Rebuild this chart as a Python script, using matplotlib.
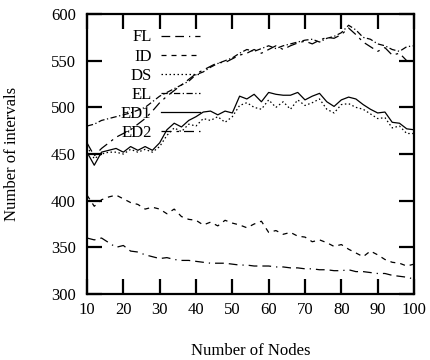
import numpy as np
import matplotlib
matplotlib.use('Agg')
from matplotlib import pyplot as plt

plt.rcParams['font.family'] = ['Liberation Serif', 'DejaVu Serif']

# Nombre de noeuds
nodes = np.arange(10, 101, 2)

FL = [360, 358, 360, 355, 350, 352, 346, 345, 342, 340, 338, 339, 337, 336, 336, 335,
      334, 333, 333, 333, 332, 331, 331, 330, 330, 330, 329, 329, 328, 328, 327, 327,
      326, 326, 325, 325, 326, 324, 324, 323, 322, 322, 320, 319, 318, 316]
ID = [406, 394, 401, 404, 406, 402, 398, 396, 391, 393, 391, 386, 391, 383, 380, 379,
      374, 377, 373, 379, 376, 374, 371, 375, 378, 366, 368, 364, 366, 362, 361, 356,
      358, 355, 351, 353, 348, 344, 340, 346, 342, 337, 334, 333, 330, 332]
DS = [458, 445, 450, 452, 452, 450, 455, 452, 455, 452, 458, 470, 478, 474, 482, 480,
      488, 486, 490, 484, 490, 502, 505, 500, 498, 508, 500, 506, 498, 508, 502, 505,
      509, 498, 494, 503, 504, 500, 498, 493, 488, 489, 478, 480, 472, 472]
EL = [480, 482, 486, 488, 490, 492, 494, 497, 500, 506, 512, 516, 520, 524, 528, 535,
      538, 543, 547, 550, 553, 558, 562, 560, 563, 566, 563, 566, 568, 570, 572, 573,
      570, 574, 576, 580, 588, 583, 575, 573, 568, 566, 562, 560, 565, 566]
ED1 = [452, 438, 452, 454, 456, 452, 458, 454, 458, 454, 462, 476, 483, 479, 486, 490,
       495, 496, 492, 496, 494, 512, 509, 514, 506, 516, 514, 513, 513, 516, 508, 512,
       515, 506, 501, 508, 511, 509, 503, 498, 494, 495, 484, 483, 477, 476]
ED2 = [462, 448, 456, 462, 468, 472, 476, 482, 488, 496, 505, 512, 518, 524, 530, 536,
       540, 544, 548, 548, 552, 556, 558, 562, 558, 562, 566, 562, 566, 569, 571, 568,
       572, 575, 574, 578, 585, 578, 570, 565, 560, 564, 556, 558, 550, 548]

fig = plt.figure(figsize=(4.3, 3.6), dpi=100)
ax = fig.add_axes([0.2023, 0.1833, 0.7605, 0.7777])

ax.plot(nodes, FL, 'k', lw=0.9, dashes=(7, 4, 7, 4, 1, 4), label='FL')
ax.plot(nodes, ID, 'k', lw=0.9, dashes=(4, 4), label='ID')
ax.plot(nodes, DS, 'k', lw=0.9, dashes=(1.2, 2), label='DS')
ax.plot(nodes, EL, 'k', lw=0.9, dashes=(5, 2, 1, 2), label='EL')
ax.plot(nodes, ED1, 'k', lw=0.9, label='ED1')
ax.plot(nodes, ED2, 'k', lw=0.9, dashes=(8, 4, 2, 4), label='ED2')

ax.set_xlim(10, 100)
ax.set_ylim(300, 600)
ax.set_xticks(np.arange(10, 101, 10))
ax.set_yticks(np.arange(300, 601, 50))
ax.tick_params(direction='in', length=11, width=1.6, top=True, right=True,
               labelsize=12, pad=6)
ax.tick_params(axis='y', pad=8)
for s in ax.spines.values():
    s.set_linewidth(1.6)

ax.set_xlabel('Number of Nodes', fontsize=12, labelpad=18)
ax.set_ylabel('Number of intervals', fontsize=12, labelpad=22)

ax.legend(loc='upper right', bbox_to_anchor=(0.345, 0.945), frameon=False,
          markerfirst=False, fontsize=12, handlelength=2.3, labelspacing=0.19,
          handletextpad=0.6, borderaxespad=0.0, borderpad=0.0)

plt.savefig('out.png', dpi=100)
